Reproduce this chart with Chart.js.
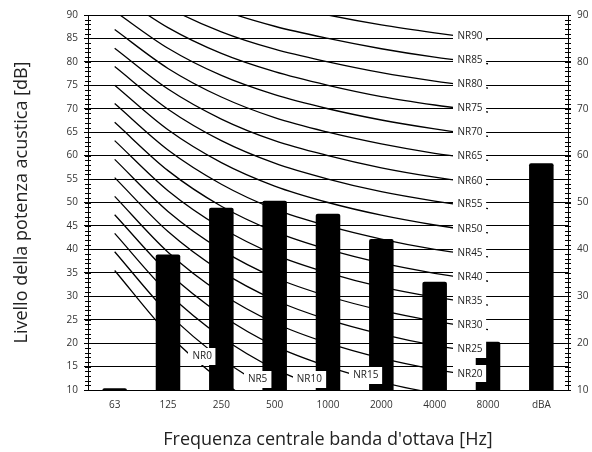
<!DOCTYPE html>
<html>
<head>
<meta charset="utf-8">
<script src="https://cdn.jsdelivr.net/npm/chart.js@4"></script>
<style>
  html, body { margin: 0; padding: 0; background: #fff; }
</style>
</head>
<body>
<canvas id="nrChart" width="592" height="452"></canvas>
<script>
// octave bands + overall level
const categories = ['63', '125', '250', '500', '1000', '2000', '4000', '8000', 'dBA'];
const levels = [10.4, 38.9, 48.9, 50.4, 47.6, 42.2, 33.1, 20.3, 58.4];

// NR curves, 63 Hz .. 8000 Hz
const nrLevels = [0, 5, 10, 15, 20, 25, 30, 35, 40, 45, 50, 55, 60, 65, 70, 75, 80, 85, 90];
const nr0  = [35.5, 22.0, 12.0, 4.8, 0, -3.5, -6.1, -8.0];
const nr5  = [39.5, 26.4, 16.7, 9.7, 5, 1.6, -1.0, -2.9];
const nr10 = [43.4, 30.7, 21.3, 14.5, 10, 6.7, 4.2, 2.3];
const nr15 = [47.4, 35.1, 26.0, 19.4, 15, 11.7, 9.3, 7.5];
const nr20 = [51.3, 39.4, 30.6, 24.3, 20, 16.8, 14.4, 12.6];
const nr25 = [55.3, 43.8, 35.3, 29.2, 25, 21.9, 19.5, 17.8];
const nr30 = [59.2, 48.1, 39.9, 34.0, 30, 27.0, 24.7, 22.9];
const nr35 = [63.2, 52.5, 44.6, 38.9, 35, 32.0, 29.8, 28.1];
const nr40 = [67.1, 56.8, 49.2, 43.8, 40, 37.1, 34.9, 33.2];
const nr45 = [71.1, 61.2, 53.9, 48.6, 45, 42.2, 40.0, 38.4];
const nr50 = [75.0, 65.5, 58.5, 53.5, 50, 47.3, 45.2, 43.5];
const nr55 = [79.0, 69.9, 63.2, 58.4, 55, 52.3, 50.3, 48.7];
const nr60 = [82.9, 74.2, 67.8, 63.2, 60, 57.4, 55.4, 53.8];
const nr65 = [86.9, 78.6, 72.5, 68.1, 65, 62.5, 60.5, 59.0];
const nr70 = [90.8, 82.9, 77.1, 73.0, 70, 67.6, 65.7, 64.1];
const nr75 = [94.8, 87.3, 81.8, 77.9, 75, 72.6, 70.8, 69.3];
const nr80 = [98.7, 91.6, 86.4, 82.7, 80, 77.7, 75.9, 74.4];
const nr85 = [102.7, 96.0, 91.1, 87.6, 85, 82.8, 81.0, 79.6];
const nr90 = [106.6, 100.3, 95.7, 92.5, 90, 87.9, 86.2, 84.7];
const nrCurves = [nr0, nr5, nr10, nr15, nr20, nr25, nr30, nr35, nr40, nr45,
                  nr50, nr55, nr60, nr65, nr70, nr75, nr80, nr85, nr90];

// where the NR0..NR15 labels sit (category index, dB)
const lowLabelPos = [1.64, 2.68, 3.65, 4.71];
const lowLabelLevel = [17.2, 12.3, 12.3, 13.2];

const FONT = '"Open Sans", "DejaVu Sans", sans-serif';
const TXT = '#333';

const datasets = [{
    type: 'bar',
    label: 'Livello',
    data: levels,
    backgroundColor: '#000',
    borderRadius: 2,
    barPercentage: 0.46,
    categoryPercentage: 1,
    order: 0
}];
nrCurves.forEach((vals, i) => {
    datasets.push({
        type: 'line',
        label: 'NR' + nrLevels[i],
        data: vals,
        borderColor: '#000',
        borderWidth: 1.3,
        pointRadius: 0,
        fill: false,
        cubicInterpolationMode: 'monotone',
        order: 1
    });
});

// small ticks crossing both value axes at every dB
const minorTicks = {
    id: 'minorTicks',
    afterDraw(chart) {
        const ctx = chart.ctx;
        ctx.save();
        ctx.strokeStyle = '#000';
        ctx.lineWidth = 1;
        ['y', 'y2'].forEach(id => {
            const s = chart.scales[id];
            const ax = id === 'y' ? s.right : s.left;
            for (let v = s.min; v <= s.max; v++) {
                const py = Math.round(s.getPixelForValue(v)) + 0.5;
                ctx.beginPath();
                ctx.moveTo(ax - 3, py);
                ctx.lineTo(ax + 3, py);
                ctx.stroke();
            }
        });
        ctx.restore();
    }
};

// NR labels on white boxes
const nrLabels = {
    id: 'nrLabels',
    afterDatasetsDraw(chart) {
        const ctx = chart.ctx;
        const x = chart.scales.x, y = chart.scales.y;
        ctx.save();
        ctx.font = '10px ' + FONT;
        ctx.textAlign = 'center';
        ctx.textBaseline = 'middle';
        nrLevels.forEach((lvl, i) => {
            let px, py;
            if (i < lowLabelPos.length) {
                px = x.getPixelForValue(lowLabelPos[i]);
                py = y.getPixelForValue(lowLabelLevel[i]);
            } else {
                const pt = chart.getDatasetMeta(i + 1).data[7];
                px = pt.x - 18;
                py = pt.y - 4;
            }
            const text = 'NR' + lvl;
            const w = ctx.measureText(text).width + 8;
            const h = 17;
            ctx.fillStyle = '#fff';
            ctx.fillRect(Math.round(px - w / 2), Math.round(py - h / 2), w, h);
            ctx.fillStyle = '#222';
            ctx.fillText(text, px, py);
        });
        ctx.restore();
    }
};

new Chart(document.getElementById('nrChart'), {
    data: { labels: categories, datasets: datasets },
    options: {
        responsive: false,
        animation: false,
        devicePixelRatio: 1,
        layout: { padding: { top: 15, left: 0, right: 0, bottom: 0 } },
        plugins: {
            legend: { display: false },
            tooltip: { enabled: false }
        },
        scales: {
            x: {
                offset: true,
                grid: { display: false, drawTicks: false },
                border: { display: true, color: '#000', width: 1 },
                ticks: { color: TXT, font: { family: FONT, size: 10 }, padding: 9 },
                title: {
                    display: true,
                    text: "Frequenza centrale banda d'ottava [Hz]",
                    color: '#222',
                    font: { family: FONT, size: 18 },
                    padding: { top: 0, bottom: 1 }
                },
                afterFit: s => { s.height = 62; }
            },
            y: {
                min: 10,
                max: 90,
                ticks: { stepSize: 5, color: TXT, font: { family: FONT, size: 10 }, padding: 6 },
                grid: { color: '#000', lineWidth: 1, tickLength: 4 },
                border: { color: '#000', width: 1 },
                title: {
                    display: true,
                    text: 'Livello della potenza acustica [dB]',
                    color: '#222',
                    font: { family: FONT, size: 18 },
                    padding: { top: 11, bottom: 0 }
                },
                afterFit: s => { s.width = 88; }
            },
            y2: {
                position: 'right',
                min: 10,
                max: 90,
                ticks: { stepSize: 10, color: TXT, font: { family: FONT, size: 10 }, padding: 6 },
                grid: { drawOnChartArea: false, color: '#000', tickLength: 3 },
                border: { color: '#000', width: 1 },
                afterFit: s => { s.width = 24; }
            }
        }
    },
    plugins: [minorTicks, nrLabels]
});
</script>
</body>
</html>
